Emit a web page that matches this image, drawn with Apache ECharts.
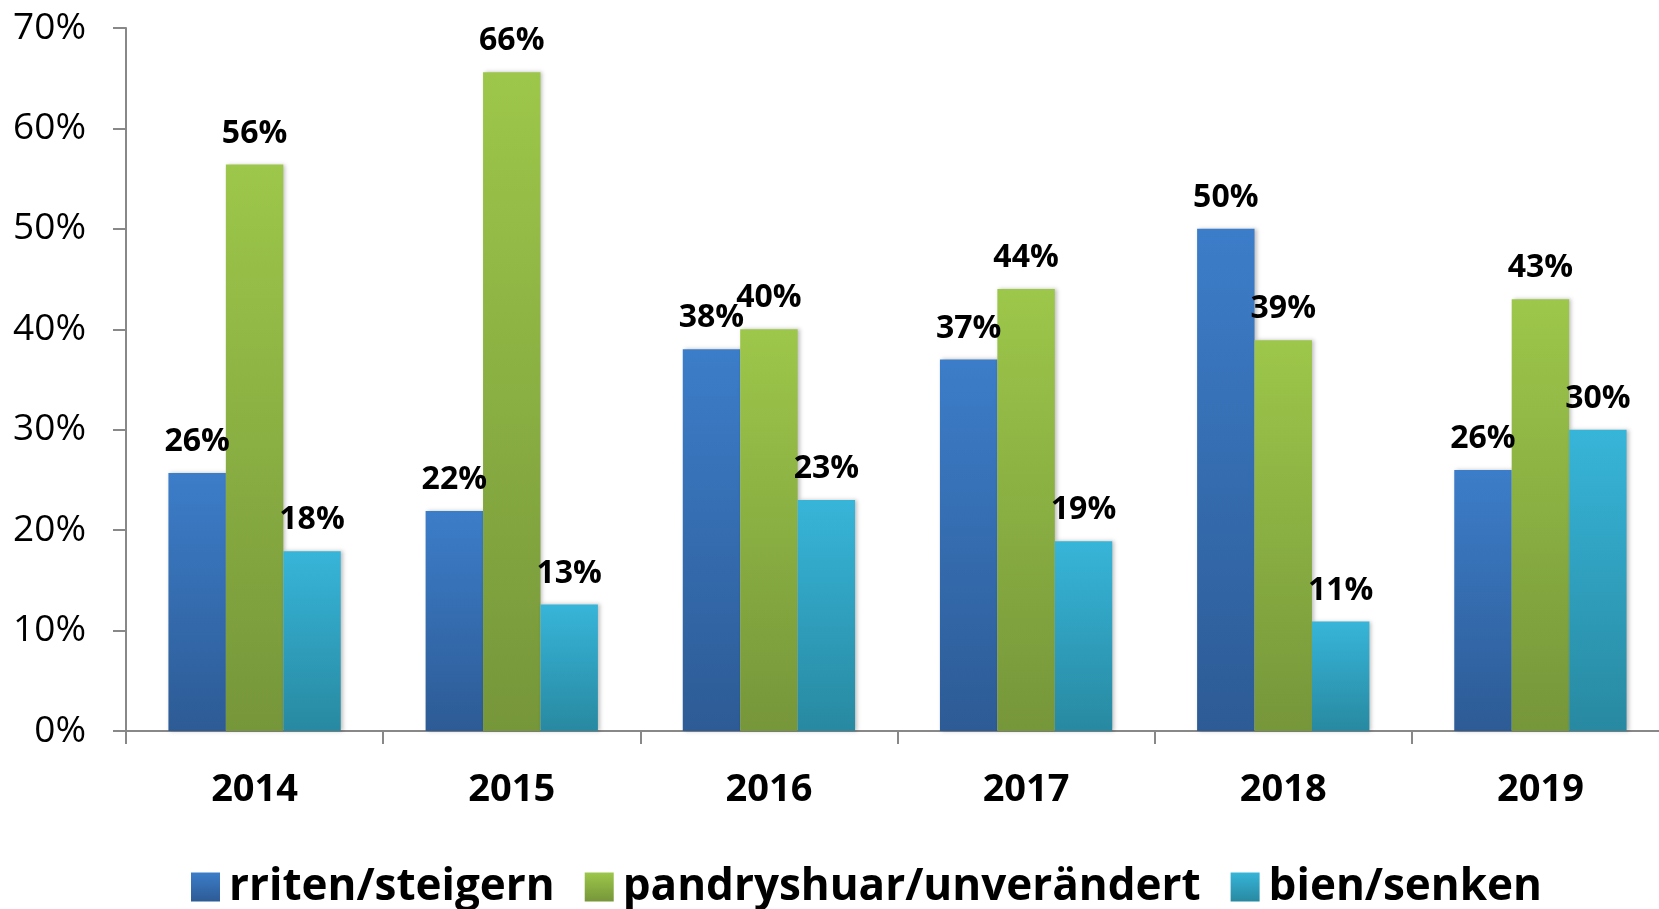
<!DOCTYPE html>
<html>
<head>
<meta charset="UTF-8">
<script type="text/javascript" src="https://cdn.jsdelivr.net/npm/echarts@6/dist/echarts.min.js"></script>
<title></title>
<style>
	html, body { margin: 0; padding: 0; background: #fff; }
	#graph { width: 1659px; height: 909px; }
</style>
</head>
<body>
<div id="graph"></div>
<script>
	var years = ['2014', '2015', '2016', '2017', '2018', '2019'];
	var seriesNames = ['rriten/steigern', 'pandryshuar/unverändert', 'bien/senken'];
	var rriten = [25.7, 21.9, 38, 37, 50, 26];
	var pandryshuar = [56.4, 65.6, 40, 44, 38.9, 43];
	var bien = [17.9, 12.6, 23, 18.9, 10.9, 30];
	var yTicks = [0, 10, 20, 30, 40, 50, 60, 70];

	var colors = [
		['#3c7dc9', '#2d5b95'],
		['#9dc74a', '#76963a'],
		['#37b5d9', '#2889a1']
	];
	var font = 'Open Sans';

	function grad(c) {
		return new echarts.graphic.LinearGradient(0, 0, 0, 1, [
			{offset: 0, color: c[0]},
			{offset: 1, color: c[1]}
		]);
	}

	function makeSeries(name, data, i) {
		return {
			name: name,
			type: 'bar',
			data: data,
			barGap: '0%',
			barCategoryGap: '33%',
			itemStyle: {
				color: grad(colors[i]),
				shadowColor: 'rgba(0,0,0,0.25)',
				shadowBlur: 4,
				shadowOffsetX: 2
			},
			label: {
				show: true,
				position: 'top',
				distance: 15,
				formatter: function (p) { return Math.round(p.value) + '%'; },
				fontFamily: font,
				fontWeight: 'bold',
				fontSize: 32,
				color: '#000'
			}
		};
	}

	var myChart = echarts.init(document.getElementById('graph'));
	var option = {
		animation: false,
		legend: {
			left: 186,
			top: 860,
			itemWidth: 29,
			itemHeight: 29,
			itemGap: 30,
			icon: 'rect',
			textStyle: {
				fontFamily: font,
				fontWeight: 'bold',
				fontSize: 44,
				color: '#000',
				padding: [0, 0, 0, 4]
			},
			data: seriesNames
		},
		grid: {
			left: 126,
			width: 1543,
			top: 28,
			bottom: 178,
			containLabel: false,
			outerBoundsMode: 'none'
		},
		xAxis: {
			type: 'category',
			data: years,
			axisLine: { lineStyle: { color: '#888', width: 2 } },
			axisTick: { show: true, length: 13, lineStyle: { color: '#888', width: 2 } },
			axisLabel: {
				margin: 40,
				fontFamily: font,
				fontWeight: 'bold',
				fontSize: 38,
				color: '#000'
			}
		},
		yAxis: {
			type: 'value',
			min: 0,
			max: 70,
			interval: 10,
			splitLine: { show: false },
			axisLine: { show: true, lineStyle: { color: '#888', width: 2 } },
			axisTick: { show: true, length: 13, lineStyle: { color: '#888', width: 2 } },
			axisLabel: {
				margin: 40,
				fontFamily: font,
				fontSize: 37,
				color: '#000',
				formatter: function (v) { return yTicks.indexOf(v) >= 0 ? v + '%' : ''; }
			}
		},
		series: [
			makeSeries(seriesNames[0], rriten, 0),
			makeSeries(seriesNames[1], pandryshuar, 1),
			makeSeries(seriesNames[2], bien, 2)
		]
	};
	myChart.setOption(option);
</script>
</body>
</html>
